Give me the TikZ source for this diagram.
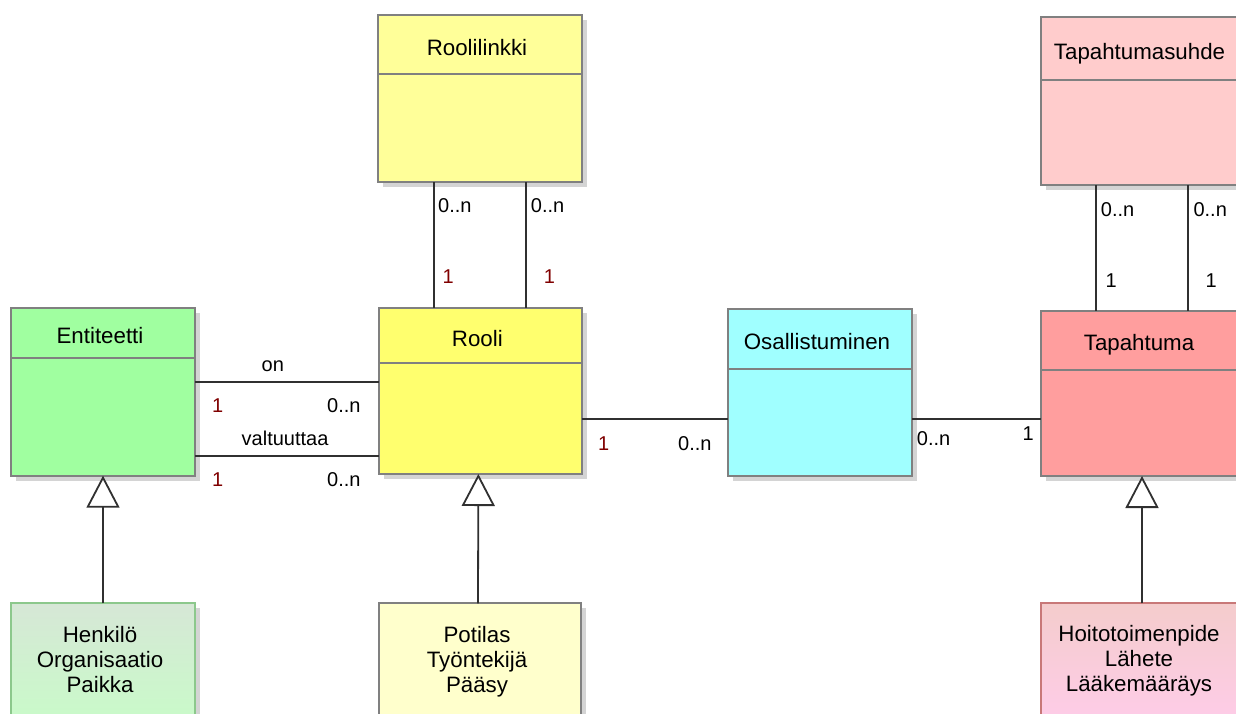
\documentclass[tikz,border=0pt]{standalone}
\usepackage{fontspec}
\setmainfont{Liberation Sans}
\usetikzlibrary{arrows.meta,shadows,calc}

\definecolor{boxborder}{HTML}{808080}
\definecolor{linkcol}{HTML}{303030}
\definecolor{multred}{HTML}{800000}
\definecolor{roolilinkkifill}{HTML}{FFFF99}
\definecolor{roolifill}{HTML}{FFFF6E}
\definecolor{entiteettifill}{HTML}{A0FFA0}
\definecolor{osallistfill}{HTML}{A0FFFF}
\definecolor{suhdefill}{HTML}{FFCCCC}
\definecolor{tapahtumafill}{HTML}{FF9E9E}
\definecolor{greentop}{HTML}{D6E7D6}
\definecolor{greenbot}{HTML}{C8FCC8}
\definecolor{greenborder}{HTML}{8CC88C}
\definecolor{yellowpale}{HTML}{FFFFCC}
\definecolor{pinktop}{HTML}{F4CCCC}
\definecolor{pinkbot}{HTML}{FFCCEA}
\definecolor{pinkborder}{HTML}{C87878}

\begin{document}
\begin{tikzpicture}[x=1pt,y=-1pt,
  cls/.style={draw=boxborder, line width=1.9pt, rectangle, inner sep=0pt,
    outer sep=0pt, anchor=north west,
    drop shadow={shadow xshift=5pt, shadow yshift=-5pt, fill=black!17, opacity=1}},
  divider/.style={draw=boxborder, line width=1.9pt},
  classtitle/.style={anchor=base, inner sep=0pt, xshift=-3pt,
    font=\fontsize{22.3}{26}\selectfont},
  listline/.style={anchor=base, inner sep=0pt, xshift=-3pt,
    font=\fontsize{22.3}{26}\selectfont},
  assoc/.style={draw=linkcol, line width=1.8pt},
  mult/.style={anchor=base west, inner sep=0pt,
    font=\fontsize{20}{24}\selectfont},
  multone/.style={mult, text=multred},
  generalize/.style={draw=linkcol, line width=1.8pt,
    -{Triangle[length=32pt, width=33pt, fill=white, line width=1.8pt]}},
]
\clip (0,0) rectangle (1236,713);
\fill[white] (0,0) rectangle (1236,713);

% ---------- classes ----------
\node[cls, fill=roolilinkkifill, minimum width=204pt, minimum height=167pt]
  (roolilinkki) at (378,15) {};
\node[cls, fill=suhdefill, minimum width=203pt, minimum height=168pt]
  (suhde) at (1041,17.3) {};
\node[cls, fill=entiteettifill, minimum width=184pt, minimum height=167.4pt]
  (entiteetti) at (11,308.3) {};
\node[cls, fill=roolifill, minimum width=202.7pt, minimum height=165.7pt]
  (rooli) at (379,308.3) {};
\node[cls, fill=osallistfill, minimum width=184pt, minimum height=166.7pt]
  (osallist) at (728,309) {};
\node[cls, fill=tapahtumafill, minimum width=202pt, minimum height=165.3pt]
  (tapahtuma) at (1041,310.7) {};

% header dividers
\draw[divider] ([yshift=-59pt]roolilinkki.north west) -- ([yshift=-59pt]roolilinkki.north east);
\draw[divider] ([yshift=-62.7pt]suhde.north west) -- ([yshift=-62.7pt]suhde.north east);
\draw[divider] ([yshift=-49.7pt]entiteetti.north west) -- ([yshift=-49.7pt]entiteetti.north east);
\draw[divider] ([yshift=-55pt]rooli.north west) -- ([yshift=-55pt]rooli.north east);
\draw[divider] ([yshift=-60.3pt]osallist.north west) -- ([yshift=-60.3pt]osallist.north east);
\draw[divider] ([yshift=-59pt]tapahtuma.north west) -- ([yshift=-59pt]tapahtuma.north east);

% class names
\node[classtitle] (t-roolilinkki) at ([yshift=-40pt]roolilinkki.north) {Roolilinkki};
\node[classtitle] (t-suhde) at ([yshift=-41.7pt]suhde.north) {Tapahtumasuhde};
\node[classtitle] (t-entiteetti) at ([yshift=-34.7pt]entiteetti.north) {Entiteetti};
\node[classtitle] (t-rooli) at ([yshift=-38.4pt]rooli.north) {Rooli};
\node[classtitle] (t-osallist) at ([yshift=-40pt]osallist.north) {Osallistuminen};
\node[classtitle] (t-tapahtuma) at ([yshift=-39.3pt]tapahtuma.north) {Tapahtuma};

% ---------- subtype boxes ----------
\node[cls, draw=greenborder, top color=greentop, bottom color=greenbot,
  minimum width=184pt, minimum height=127pt] (henkilo) at (11,603.3) {};
\node[cls, fill=yellowpale, minimum width=202pt, minimum height=127pt]
  (potilas) at (379,603.3) {};
\node[cls, draw=pinkborder, top color=pinktop, bottom color=pinkbot,
  minimum width=202pt, minimum height=127pt] (hoito) at (1041,603.3) {};

\node[listline] (l-henkilo) at ([yshift=-39pt]henkilo.north) {Henkilö};
\node[listline] (l-organisaatio) at ([yshift=-64pt]henkilo.north) {Organisaatio};
\node[listline] (l-paikka) at ([yshift=-89.4pt]henkilo.north) {Paikka};
\node[listline] (l-potilas) at ([yshift=-39pt]potilas.north) {Potilas};
\node[listline] (l-tyontekija) at ([yshift=-64pt]potilas.north) {Työntekijä};
\node[listline] (l-paasy) at ([yshift=-89.4pt]potilas.north) {Pääsy};
\node[listline] (l-hoito) at ([yshift=-38.6pt]hoito.north) {Hoitotoimenpide};
\node[listline] (l-lahete) at ([yshift=-63.6pt]hoito.north) {Lähete};
\node[listline] (l-laake) at ([yshift=-88.6pt]hoito.north) {Lääkemääräys};

% ---------- associations ----------
\draw[assoc] ([xshift=56pt]roolilinkki.south west) -- ([xshift=55pt]rooli.north west);
\draw[assoc] ([xshift=148pt]roolilinkki.south west) -- ([xshift=147pt]rooli.north west);
\draw[assoc] ([xshift=55pt]suhde.south west) -- ([xshift=55pt]tapahtuma.north west);
\draw[assoc] ([xshift=147pt]suhde.south west) -- ([xshift=147pt]tapahtuma.north west);
\draw[assoc] ([yshift=-74pt]entiteetti.north east) -- ([yshift=-74pt]rooli.north west);
\draw[assoc] ([yshift=-147.4pt]entiteetti.north east) -- ([yshift=-147.4pt]rooli.north west);
\draw[assoc] ([yshift=-110.7pt]rooli.north east) -- ([yshift=-110pt]osallist.north west);
\draw[assoc] ([yshift=-110pt]osallist.north east) -- ([yshift=-108.3pt]tapahtuma.north west);

% ---------- generalizations ----------
\draw[generalize] (henkilo.north) -- (entiteetti.south);
\draw[generalize] ([xshift=-2pt]potilas.north) -- ([xshift=-2pt]rooli.south);
\draw[generalize] (hoito.north) -- (tapahtuma.south);

% ---------- association labels ----------
\node[mult] (m-rl1) at (438,212.3) {0..n};
\node[mult] (m-rl2) at (530.7,212.3) {0..n};
\node[multone] (m-rl3) at (442.3,283.3) {1};
\node[multone] (m-rl4) at (543.7,283.3) {1};

\node[mult] (m-ts1) at (1100.7,216) {0..n};
\node[mult] (m-ts2) at (1193.3,216) {0..n};
\node[mult] (m-ts3) at (1105.3,287.3) {1};
\node[mult] (m-ts4) at (1205.3,287.3) {1};

\node[mult] (m-on) at (261.5,371.7) {on};
\node[multone] (m-on1) at (212,412.7) {1};
\node[mult] (m-on2) at (327,412.7) {0..n};
\node[mult] (m-val) at (241.5,445.7) {valtuuttaa};
\node[multone] (m-val1) at (212,486.7) {1};
\node[mult] (m-val2) at (327,486.7) {0..n};

\node[multone] (m-ro1) at (598,450) {1};
\node[mult] (m-ro2) at (678,450) {0..n};
\node[mult] (m-ot1) at (916.7,445.7) {0..n};
\node[mult] (m-ot2) at (1022.3,440.7) {1};
\end{tikzpicture}
\end{document}
